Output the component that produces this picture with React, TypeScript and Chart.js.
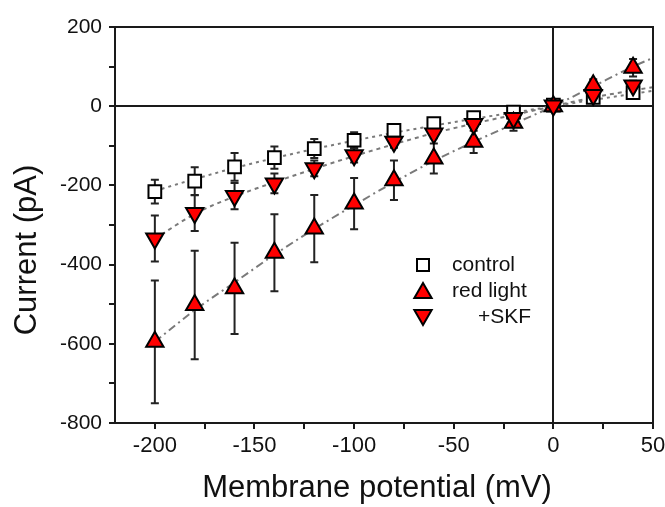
import React, { useEffect, useRef } from 'react';
import { Chart, registerables } from 'chart.js';

Chart.register(...registerables);

// ---- data ----
const potentials = [-200, -180, -160, -140, -120, -100, -80, -60, -40, -20, 0, 20, 40];
const controlCurrent = [-216, -189, -153, -130, -107, -86, -61, -44, -29, -15, 3, 22, 34];
const controlErr = [30, 35, 35, 28, 24, 20, 15, 12, 10, 8, 5, 10, 12];
const redCurrent = [-595, -502, -460, -370, -309, -246, -187, -132, -90, -42, 0, 53, 97];
const redErr = [155, 137, 115, 97, 85, 65, 50, 38, 28, 20, 5, 15, 22];
const skfCurrent = [-334, -270, -227, -195, -157, -124, -90, -69, -45, -30, 2, 28, 52];
const skfErr = [58, 45, 33, 25, 20, 18, 15, 12, 10, 8, 5, 10, 12];

const fitPotentials = [-200, -180, -160, -140, -120, -100, -80, -60, -40, -20, 0, 20, 40, 50];
const controlFit = [-214, -184, -156, -131, -108, -87, -67, -49, -32, -16, 0, 16, 31, 39];
const redFit = [-595, -515, -445, -375, -310, -250, -192, -138, -90, -45, 0, 50, 100, 122];
const skfFit = [-335, -272, -228, -192, -158, -126, -96, -68, -44, -22, 0, 22, 40, 48];

const xTickValues = [-200, -175, -150, -125, -100, -75, -50, -25, 0, 25, 50];
const yTickValues = [-800, -700, -600, -500, -400, -300, -200, -100, 0, 100, 200];

const seriesNames = ['control', 'red light', '+SKF'];
const xTitle = 'Membrane potential (mV)';
const yTitle = 'Current (pA)';

const FONT = '"Liberation Sans", Arial, Helvetica, sans-serif';
const AXIS = '#1a1a1a';
const FIT = '#7a7a7a';
const RED = '#ff0000';

const pts = (xs: number[], ys: number[]) => xs.map((x, i) => ({ x, y: ys[i] }));

function drawTri(ctx: CanvasRenderingContext2D, cx: number, cy: number, r: number, down: boolean) {
  const s = down ? -1 : 1;
  ctx.beginPath();
  ctx.moveTo(cx, cy - s * r);
  ctx.lineTo(cx + r * Math.sin(Math.PI / 3), cy + s * r / 2);
  ctx.lineTo(cx - r * Math.sin(Math.PI / 3), cy + s * r / 2);
  ctx.closePath();
  ctx.fillStyle = RED;
  ctx.fill();
  ctx.lineWidth = 2;
  ctx.strokeStyle = '#000';
  ctx.stroke();
}

const errorBarsPlugin = {
  id: 'errorBars',
  beforeDatasetsDraw(chart: any) {
    const { ctx, scales } = chart;
    const xs = scales.x;
    const ys = scales.y;
    ctx.save();
    ctx.strokeStyle = '#222';
    ctx.lineWidth = 2;
    chart.data.datasets.forEach((ds: any) => {
      if (!ds.errors) return;
      ds.data.forEach((p: any, j: number) => {
        const e = ds.errors[j];
        const px = xs.getPixelForValue(p.x);
        const y1 = ys.getPixelForValue(p.y + e);
        const y2 = ys.getPixelForValue(p.y - e);
        ctx.beginPath();
        ctx.moveTo(px, y1);
        ctx.lineTo(px, y2);
        ctx.moveTo(px - 4, y1);
        ctx.lineTo(px + 4, y1);
        ctx.moveTo(px - 4, y2);
        ctx.lineTo(px + 4, y2);
        ctx.stroke();
      });
    });
    ctx.restore();
  },
};

const framePlugin = {
  id: 'frame',
  afterDraw(chart: any) {
    const { ctx, chartArea: a } = chart;
    ctx.save();
    ctx.strokeStyle = AXIS;
    ctx.lineWidth = 2;
    ctx.beginPath();
    ctx.moveTo(a.left, a.top);
    ctx.lineTo(a.right, a.top);
    ctx.lineTo(a.right, a.bottom);
    ctx.stroke();
    // axis titles
    ctx.fillStyle = '#111';
    ctx.font = `31px ${FONT}`;
    ctx.textAlign = 'center';
    ctx.textBaseline = 'alphabetic';
    ctx.fillText(xTitle, 377, 497);
    ctx.translate(36, 250);
    ctx.rotate(-Math.PI / 2);
    ctx.fillText(yTitle, 0, 0);
    ctx.restore();
  },
};

const legendPlugin = {
  id: 'customLegend',
  afterDraw(chart: any) {
    const { ctx } = chart;
    ctx.save();
    const mx = 423;
    const rows = [265, 291, 317];
    ctx.fillStyle = '#fff';
    ctx.strokeStyle = '#000';
    ctx.lineWidth = 2;
    ctx.fillRect(mx - 6, rows[0] - 6, 12, 12);
    ctx.strokeRect(mx - 6, rows[0] - 6, 12, 12);
    drawTri(ctx, mx, rows[1] + 2, 10, false);
    drawTri(ctx, mx, rows[2] - 2, 10, true);
    ctx.fillStyle = '#111';
    ctx.font = `21px ${FONT}`;
    ctx.textBaseline = 'middle';
    ctx.textAlign = 'left';
    ctx.fillText(seriesNames[0], 452, rows[0]);
    ctx.fillText(seriesNames[1], 452, rows[1]);
    ctx.textAlign = 'right';
    ctx.fillText(seriesNames[2], 531, rows[2]);
    ctx.restore();
  },
};

export default function App() {
  const ref = useRef<HTMLCanvasElement>(null);
  useEffect(() => {
    if (!ref.current) return;
    const zeroGrid = (c: any) => (c.tick && c.tick.value === 0 ? AXIS : 'rgba(0,0,0,0)');
    const chart = new Chart(ref.current, {
      type: 'scatter',
      data: {
        datasets: [
          {
            label: 'controlFit', type: 'line', data: pts(fitPotentials, controlFit) as any,
            borderColor: FIT, borderWidth: 2, borderDash: [3, 4], pointRadius: 0,
            tension: 0.4, cubicInterpolationMode: 'monotone', order: 10, fill: false,
          } as any,
          {
            label: 'redFit', type: 'line', data: pts(fitPotentials, redFit) as any,
            borderColor: FIT, borderWidth: 2, borderDash: [8, 4, 2, 4], pointRadius: 0,
            tension: 0.4, cubicInterpolationMode: 'monotone', order: 10, fill: false,
          } as any,
          {
            label: 'skfFit', type: 'line', data: pts(fitPotentials, skfFit) as any,
            borderColor: FIT, borderWidth: 2, borderDash: [4, 4], pointRadius: 0,
            tension: 0.4, cubicInterpolationMode: 'monotone', order: 10, fill: false,
          } as any,
          {
            label: seriesNames[0], data: pts(potentials, controlCurrent) as any, errors: controlErr,
            pointStyle: 'rect', pointRadius: 9, pointBackgroundColor: '#fff',
            pointBorderColor: '#000', pointBorderWidth: 2, showLine: false, order: 3,
          } as any,
          {
            label: seriesNames[1], data: pts(potentials, redCurrent) as any, errors: redErr,
            pointStyle: 'triangle', pointRadius: 10, pointBackgroundColor: RED,
            pointBorderColor: '#000', pointBorderWidth: 2, showLine: false, order: 2,
          } as any,
          {
            label: seriesNames[2], data: pts(potentials, skfCurrent) as any, errors: skfErr,
            pointStyle: 'triangle', rotation: 180, pointRotation: 180, pointRadius: 10,
            pointBackgroundColor: RED, pointBorderColor: '#000', pointBorderWidth: 2,
            showLine: false, order: 1,
          } as any,
        ],
      },
      options: {
        responsive: false,
        animation: false,
        layout: { padding: { top: 27, right: 12, left: 0, bottom: 0 } },
        plugins: { legend: { display: false }, tooltip: { enabled: false } },
        scales: {
          x: {
            type: 'linear', min: -220, max: 50,
            afterBuildTicks: (s: any) => { s.ticks = xTickValues.map((v) => ({ value: v })); },
            afterFit: (s: any) => { s.height = 84; s.paddingLeft = 0; s.paddingRight = 0; },
            ticks: {
              autoSkip: false, maxRotation: 0, padding: 4, color: '#111',
              font: { family: FONT, size: 22 },
              callback: (v: any) => (Number(v) % 50 === 0 ? String(v) : ''),
            },
            grid: { drawOnChartArea: true, color: zeroGrid, lineWidth: 2, tickColor: AXIS, tickLength: 6, tickWidth: 2 },
            border: { display: true, color: AXIS, width: 2 },
            title: { display: false },
          },
          y: {
            type: 'linear', min: -800, max: 200,
            afterBuildTicks: (s: any) => { s.ticks = yTickValues.map((v) => ({ value: v })); },
            afterFit: (s: any) => { s.width = 115; },
            ticks: {
              autoSkip: false, padding: 7, color: '#111',
              font: { family: FONT, size: 21 },
              callback: (v: any) => (Number(v) % 200 === 0 ? String(v) : ''),
            },
            grid: { drawOnChartArea: true, color: zeroGrid, lineWidth: 2, tickColor: AXIS, tickLength: 6, tickWidth: 2 },
            border: { display: true, color: AXIS, width: 2 },
            title: { display: false },
          },
        },
      } as any,
      plugins: [errorBarsPlugin, framePlugin, legendPlugin],
    });
    return () => chart.destroy();
  }, []);
  return (
    <div style={{ position: 'fixed', left: 0, top: 0, width: 665, height: 507, background: '#fff' }}>
      <canvas ref={ref} width={665} height={507} style={{ width: 665, height: 507 }} />
    </div>
  );
}
